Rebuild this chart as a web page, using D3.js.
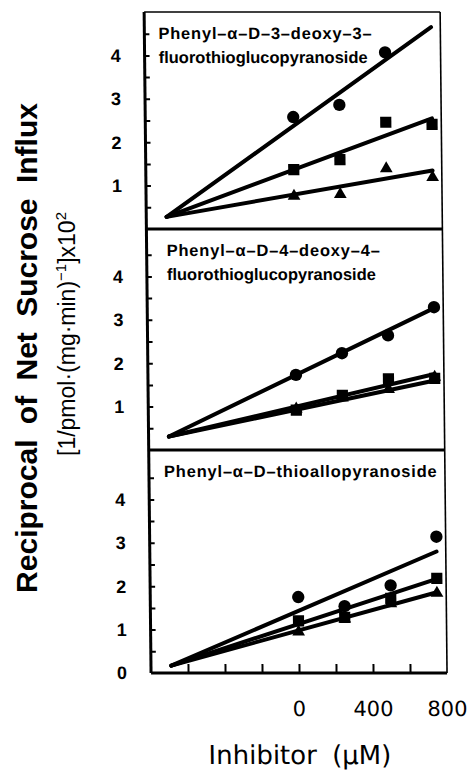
<!DOCTYPE html>
<html><head><meta charset="utf-8">
<script src="https://cdn.jsdelivr.net/npm/d3@7"></script>
<style>body{margin:0;background:#fff}svg{display:block}</style>
</head><body><svg id="c" width="470" height="771"></svg>
<script>
const concentrations = [0, 250, 500, 750];
const panelTitles = [
  ["Phenyl–α–D–3–deoxy–3–", "fluorothioglucopyranoside"],
  ["Phenyl–α–D–4–deoxy–4–", "fluorothioglucopyranoside"],
  ["Phenyl–α–D–thioallopyranoside"]
];
const circleValues   = [[2.58, 2.86, 4.07, null], [1.73, 2.23, 2.64, 3.29], [1.75, 1.54, 2.02, 3.14]];
const squareValues   = [[1.37, 1.60, 2.46, 2.41], [0.92, 1.26, 1.64, 1.65], [1.20, 1.28, 1.72, 2.18]];
const triangleValues = [[0.76, 0.80, 1.39, 1.19], [0.95, 1.20, 1.40, 1.68], [0.95, 1.25, 1.60, 1.84]];
const fitX = [-690, 750];
const fitStart       = [0.28, 0.31, 0.17];
const circleFitEnd   = [4.65, 3.27, 2.80];
const squareFitEnd   = [2.55, 1.75, 2.17];
const triangleFitEnd = [1.35, 1.60, 1.86];
const yTickValues = [0.5, 1, 1.5, 2, 2.5, 3, 3.5, 4, 4.5];
const yTickLabels = [1, 2, 3, 4];
const xTickValues = [-600, -400, -200, 0, 200, 400, 600];
const xTickLabels = [0, 400, 800];
const yTitle = "Reciprocal of Net Sucrose Influx";
const xTitle = "Inhibitor (µM)";

// layout
const left = 144, right = 440;
const panelTops = [12, 229, 450], panelBottoms = [229, 450, 673];
const labelOffsets = [14, 20, 15];

const svg = d3.select("#c");
const g = svg.append("g").attr("transform", "skewX(0.6)");

const x = d3.scaleLinear().domain([-800, 800]).range([left, right]);

// outer frame: thin top and right
g.append("line").attr("x1", left).attr("x2", right).attr("y1", panelTops[0]).attr("y2", panelTops[0])
  .attr("stroke", "#000").attr("stroke-width", 1.6);
g.append("line").attr("x1", right).attr("x2", right).attr("y1", panelTops[0]).attr("y2", panelBottoms[2])
  .attr("stroke", "#000").attr("stroke-width", 1.6);
// thick left axis
g.append("line").attr("x1", left).attr("x2", left).attr("y1", panelTops[0]).attr("y2", panelBottoms[2])
  .attr("stroke", "#000").attr("stroke-width", 3);

const sym = {
  circle: d3.symbol().type(d3.symbolCircle).size(120),
  square: d3.symbol().type(d3.symbolSquare).size(125),
  triangle: d3.symbol().type(d3.symbolTriangle).size(70)
};

panelTitles.forEach((title, p) => {
  const y = d3.scaleLinear().domain([0, 5.08]).range([panelBottoms[p], panelBottoms[p] - 5.08 * 43.4]);
  // separator / bottom
  g.append("line").attr("x1", left).attr("x2", right).attr("y1", panelBottoms[p]).attr("y2", panelBottoms[p])
    .attr("stroke", "#000").attr("stroke-width", 3);

  const labels = p === 2 ? [0].concat(yTickLabels) : yTickLabels;
  const ax = d3.axisLeft(y).tickValues(yTickValues).tickSizeInner(-5).tickSizeOuter(0).tickFormat("");
  const axg = g.append("g").attr("transform", `translate(${left},0)`).call(ax);
  axg.select(".domain").remove();
  axg.selectAll(".tick line").attr("stroke", "#000").attr("stroke-width", 2);

  g.selectAll(null).data(labels).enter().append("text")
    .attr("x", left - 24).attr("y", d => y(d)).attr("dy", "0.36em")
    .attr("text-anchor", "end")
    .attr("font-family", "Liberation Sans, Arial, sans-serif").attr("font-weight", "bold")
    .attr("font-size", 18).text(d => d);

  // title
  const t = g.append("text").attr("font-family", "Liberation Sans, Arial, sans-serif")
    .attr("font-weight", "bold").attr("font-size", 16.5);
  title.forEach((line, i) => {
    t.append("tspan").attr("x", left + labelOffsets[p]).attr("y", panelTops[p] + 27 + i * 24)
      .attr("letter-spacing", i === 0 ? 0.8 : 0).text(line);
  });

  // fit lines
  const line = d3.line().x(d => x(d[0])).y(d => y(d[1]));
  [circleFitEnd, squareFitEnd, triangleFitEnd].forEach(ends => {
    g.append("path").datum([[fitX[0], fitStart[p]], [fitX[1], ends[p]]])
      .attr("d", line).attr("fill", "none").attr("stroke", "#000")
      .attr("stroke-width", 4).attr("stroke-linecap", "round");
  });

  // markers
  [["circle", circleValues], ["square", squareValues], ["triangle", triangleValues]].forEach(([k, vals]) => {
    const pts = concentrations.map((c, i) => [c, vals[p][i]]).filter(d => d[1] != null);
    g.selectAll(null).data(pts).enter().append("path")
      .attr("d", sym[k]).attr("fill", "#000")
      .attr("transform", d => `translate(${x(d[0])},${y(d[1])})`);
  });
});

// x axis ticks (inward)
const xa = d3.axisBottom(x).tickValues(xTickValues).tickSizeInner(-9).tickSizeOuter(0).tickFormat("");
const xg = g.append("g").attr("transform", `translate(0,${panelBottoms[2]})`).call(xa);
xg.select(".domain").remove();
xg.selectAll(".tick line").attr("stroke", "#000").attr("stroke-width", 2);

g.selectAll(null).data(xTickLabels).enter().append("text")
  .attr("x", d => x(d)).attr("y", 716).attr("text-anchor", "middle")
  .attr("font-family", "DejaVu Sans, sans-serif").attr("font-size", 21).text(d => d);

g.append("text").attr("x", x(0)).attr("y", 764).attr("text-anchor", "middle")
  .attr("font-family", "DejaVu Sans, sans-serif").attr("font-size", 26)
  .attr("word-spacing", 7).text(xTitle);

// y titles
svg.append("text").attr("transform", "translate(37,348) rotate(-90)")
  .attr("text-anchor", "middle").attr("font-family", "Liberation Sans, Arial, sans-serif")
  .attr("font-weight", "bold").attr("font-size", 30).attr("word-spacing", 7).text(yTitle);

const sub = svg.append("text").attr("transform", "translate(75,334) rotate(-90)")
  .attr("text-anchor", "middle").attr("font-family", "Liberation Sans, Arial, sans-serif")
  .attr("font-size", 23);
sub.append("tspan").text("[1/pmol·(mg·min)");
sub.append("tspan").attr("font-size", 15).attr("dy", -9).text("−1");
sub.append("tspan").attr("dy", 9).text("]x10");
sub.append("tspan").attr("font-size", 15).attr("dy", -9).text("2");
</script></body></html>
